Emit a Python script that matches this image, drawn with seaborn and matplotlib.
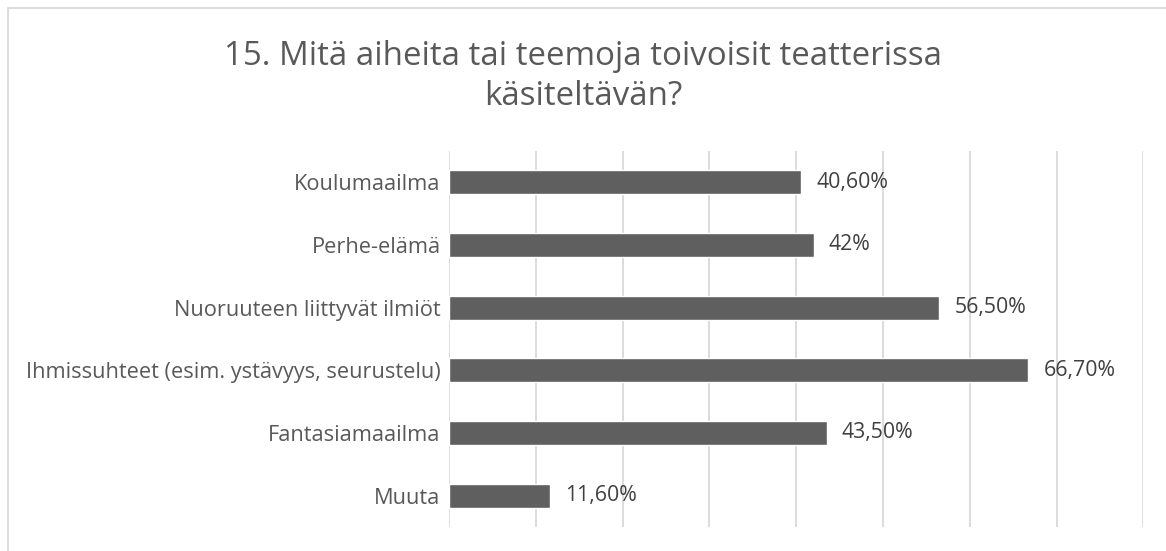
import numpy as np
import pandas as pd
import matplotlib
matplotlib.use('Agg')
import matplotlib.pyplot as plt
import seaborn as sns
from matplotlib.patches import Rectangle

# data
categories = ['Koulumaailma', 'Perhe-elämä', 'Nuoruuteen liittyvät ilmiöt',
              'Ihmissuhteet (esim. ystävyys, seurustelu)', 'Fantasiamaailma', 'Muuta']
values = [0.406, 0.42, 0.565, 0.667, 0.435, 0.116]
value_labels = ['40,60%', '42%', '56,50%', '66,70%', '43,50%', '11,60%']
title = '15. Mitä aiheita tai teemoja toivoisit teatterissa\nkäsiteltävän?'

df = pd.DataFrame({'aihe': categories, 'osuus': values})

sns.set_style('white')
plt.rcParams['font.family'] = ['Open Sans', 'DejaVu Sans']

fig = plt.figure(figsize=(11.66, 5.51), dpi=100)
ax = fig.add_axes([0.385, 0.0436, 0.5957, 0.6825])

sns.barplot(data=df, x='osuus', y='aihe', color='#5f5f5f', width=0.38,
            saturation=1, ax=ax)

ax.set_xlim(0, 0.8)
ax.set_xticks(np.arange(0, 0.81, 0.1))
ax.xaxis.grid(True, color='#d9d9d9', linewidth=1.3)
ax.set_axisbelow(True)
ax.tick_params(axis='x', length=0, labelbottom=False)
ax.tick_params(axis='y', length=0, labelsize=15.7, labelcolor='#595959', pad=6)
ax.set_xlabel('')
ax.set_ylabel('')
for s in ax.spines.values():
    s.set_visible(False)

for i, (v, lab) in enumerate(zip(values, value_labels)):
    ax.annotate(lab, (v, i), xytext=(11, 0), textcoords='offset points',
                va='center', ha='left', fontsize=15.3, color='#404040')

fig.text(0.5, 0.862, title, ha='center', va='center', fontsize=23.8,
         color='#595959', linespacing=1.28)

# outer chart border (only top/left visible in crop)
fig.patches.append(Rectangle((8 / 1166, -0.1), 1.2, 1 - 7.5 / 551 + 0.1,
                             transform=fig.transFigure, fill=False,
                             edgecolor='#d9d9d9', linewidth=1.3))

fig.savefig('out.png', dpi=100)
